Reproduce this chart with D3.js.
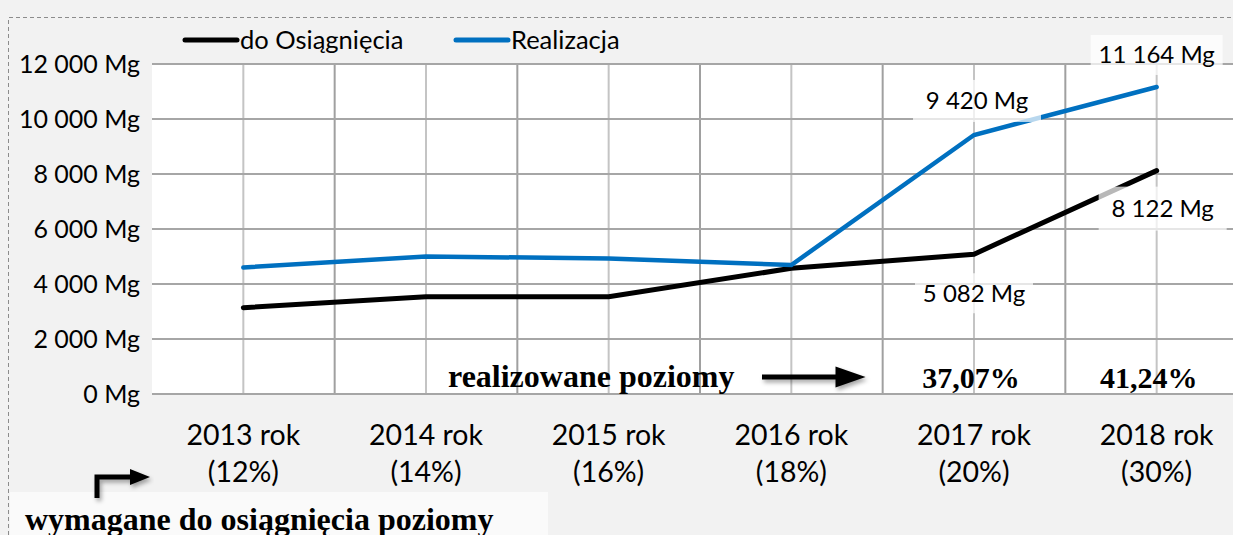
<!DOCTYPE html>
<html lang="pl">
<head>
<meta charset="UTF-8">
<title>Poziomy recyklingu</title>
<script src="https://d3js.org/d3.v7.min.js"></script>
<style>
  body { margin: 0; background: #f2f2f2; }
  svg { display: block; }
  .sans { font-family: Lato, "Open Sans", sans-serif; fill: #000; }
  .serif { font-family: "Liberation Serif", "Times New Roman", serif; font-weight: bold; fill: #000; }
</style>
</head>
<body>
<svg id="chart" width="1233" height="535"></svg>
<script>
// data
const years = ["2013 rok", "2014 rok", "2015 rok", "2016 rok", "2017 rok", "2018 rok"];
const requiredPct = ["(12%)", "(14%)", "(16%)", "(18%)", "(20%)", "(30%)"];
const doOsiagniecia = [3140, 3540, 3540, 4570, 5082, 8122];
const realizacja = [4600, 5000, 4930, 4690, 9420, 11164];
const realizedPct = ["", "", "", "", "37,07%", "41,24%"];
const yTicks = [0, 2000, 4000, 6000, 8000, 10000, 12000];

const pl = d3.formatLocale({ decimal: ",", thousands: " ", grouping: [3], currency: ["", ""] });
const fmt = v => pl.format(",")(v).replace(/\u00a0/g, " ") + " Mg";

const svg = d3.select("#chart");
const plotL = 152, plotR = 1248, plotT = 64, plotB = 394;

const x = d3.scaleBand().domain(years).range([plotL, plotR]);
const y = d3.scaleLinear().domain([0, 12000]).range([plotB, plotT]);
const cx = d => x(d) + x.bandwidth() / 2;

const defs = svg.append("defs");
const shadow = defs.append("filter").attr("id", "shadow")
  .attr("x", "-20%").attr("y", "-50%").attr("width", "140%").attr("height", "220%");
shadow.append("feDropShadow").attr("dx", 2).attr("dy", 3).attr("stdDeviation", 2)
  .attr("flood-color", "#000").attr("flood-opacity", 0.35);

// dashed frame
svg.append("path").attr("d", "M8.5,535 L8.5,17.5 L1233,17.5")
  .attr("fill", "none").attr("stroke", "#8c8c8c").attr("stroke-dasharray", "4,3");

// plot area
svg.append("rect").attr("x", plotL).attr("y", plotT).attr("width", plotR - plotL).attr("height", plotB - plotT)
  .attr("fill", "#fff");

// vertical grid: band edges darker, centers lighter
svg.append("g").selectAll("line").data(years.slice(1)).join("line")
  .attr("x1", d => x(d)).attr("x2", d => x(d)).attr("y1", plotT).attr("y2", plotB)
  .attr("stroke", "#a0a0a0").attr("stroke-width", 2);
svg.append("g").selectAll("line").data(years).join("line")
  .attr("x1", cx).attr("x2", cx).attr("y1", plotT).attr("y2", plotB)
  .attr("stroke", "#c4c4c4").attr("stroke-width", 2);

// horizontal grid
svg.append("g").selectAll("line").data(yTicks).join("line")
  .attr("x1", plotL).attr("x2", plotR).attr("y1", d => y(d)).attr("y2", d => y(d))
  .attr("stroke", "#a6a6a6").attr("stroke-width", 2);

// y labels
svg.append("g").selectAll("text").data(yTicks).join("text")
  .attr("class", "sans").attr("x", 140).attr("y", d => y(d)).attr("dy", "0.35em")
  .attr("text-anchor", "end").attr("font-size", 25).text(fmt);

// x labels
const xl = svg.append("g").selectAll("g").data(years).join("g")
  .attr("transform", d => `translate(${cx(d)},0)`);
xl.append("text").attr("class", "sans").attr("y", 445).attr("text-anchor", "middle")
  .attr("font-size", 28.5).text(d => d);
xl.append("text").attr("class", "sans").attr("y", 482).attr("text-anchor", "middle")
  .attr("font-size", 28.5).text((d, i) => requiredPct[i]);

// lines
const line = d3.line().x((d, i) => cx(years[i])).y(d => y(d));
svg.append("path").datum(doOsiagniecia).attr("d", line)
  .attr("fill", "none").attr("stroke", "#000").attr("stroke-width", 5).attr("stroke-linecap", "round");
svg.append("path").datum(realizacja).attr("d", line)
  .attr("fill", "none").attr("stroke", "#0070c0").attr("stroke-width", 4.5).attr("stroke-linecap", "round");

// value labels with translucent boxes
const valueLabels = [
  { i: 4, v: realizacja[4], dx: 3, dy: -34, w: 128, h: 42 },
  { i: 5, v: realizacja[5], dx: 0, dy: -32, w: 132, h: 40 },
  { i: 5, v: doOsiagniecia[5], dx: 6, dy: 38, w: 128, h: 44 },
  { i: 4, v: doOsiagniecia[4], dx: 0, dy: 39, w: 118, h: 40 }
];
const vl = svg.append("g").selectAll("g").data(valueLabels).join("g")
  .attr("transform", d => `translate(${cx(years[d.i]) + d.dx},${y(d.v) + d.dy})`);
vl.append("rect").attr("x", d => -d.w / 2).attr("y", d => -d.h / 2)
  .attr("width", d => d.w).attr("height", d => d.h).attr("fill", "#fff").attr("opacity", 0.72);
vl.append("text").attr("class", "sans").attr("text-anchor", "middle").attr("dy", "0.35em")
  .attr("font-size", 24).text(d => fmt(d.v));

// legend
const legend = [
  { name: "do Osiągnięcia", color: "#000", x: 183 },
  { name: "Realizacja", color: "#0070c0", x: 454 }
];
const lg = svg.append("g").selectAll("g").data(legend).join("g")
  .attr("transform", d => `translate(${d.x},40)`);
lg.append("line").attr("x1", 2).attr("x2", 54).attr("stroke", d => d.color)
  .attr("stroke-width", 5).attr("stroke-linecap", "round");
lg.append("text").attr("class", "sans").attr("x", 57).attr("dy", "0.35em")
  .attr("font-size", 25.5).text(d => d.name);

// realized levels row
svg.append("text").attr("class", "serif").attr("x", 448).attr("y", 387)
  .attr("font-size", 32).text("realizowane poziomy");
svg.append("g").selectAll("text").data(realizedPct).join("text")
  .attr("class", "serif").attr("x", (d, i) => cx(years[i]) - (i === 5 ? 8 : 3)).attr("y", 388)
  .attr("text-anchor", "middle").attr("font-size", 30).text(d => d);
svg.append("path").attr("d", "M762,377 L838,377 L838,370 L858,377 L838,384 L838,377 Z")
  .attr("fill", "#000").attr("stroke", "#000").attr("stroke-width", 5).attr("stroke-linejoin", "miter")
  .attr("filter", "url(#shadow)");

// bottom-left note
svg.append("rect").attr("x", 10).attr("y", 492).attr("width", 538).attr("height", 43).attr("fill", "#fafafa");
svg.append("path").attr("d", "M97,498 L97,477 L132,477")
  .attr("fill", "none").attr("stroke", "#000").attr("stroke-width", 5).attr("filter", "url(#shadow)");
svg.append("path").attr("d", "M130,469 L150,477 L130,485 Z").attr("fill", "#000").attr("filter", "url(#shadow)");
svg.append("text").attr("class", "serif").attr("x", 25).attr("y", 530)
  .attr("font-size", 32).text("wymagane do osiągnięcia poziomy");
</script>
</body>
</html>
